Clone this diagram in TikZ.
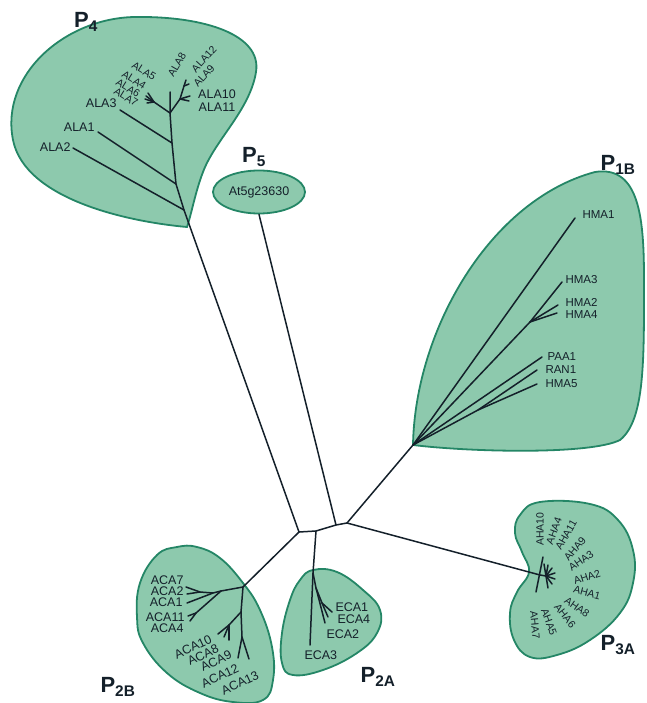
\documentclass[tikz,border=0pt]{standalone}
\usepackage{fontspec}
\setmainfont{Liberation Sans}
\usetikzlibrary{shapes.geometric}
\definecolor{cladefill}{RGB}{141,201,173}
\definecolor{cladeedge}{RGB}{36,134,102}
\definecolor{treeink}{RGB}{20,32,42}

\begin{document}
\begin{tikzpicture}[
    x=1pt, y=-1pt,
    clade/.style={draw=cladeedge, fill=cladefill, line width=1.8pt},
    branch/.style={draw=treeink, line width=1.5pt, line cap=round, line join=round},
    leaf/.style={font=\fontsize{12.5}{12.5}\selectfont, text=treeink, inner sep=0.3pt},
    hmaleaf/.style={font=\fontsize{11.5}{11.5}\selectfont, text=treeink, inner sep=0.3pt},
    tinyleaf/.style={font=\fontsize{10.5}{10.5}\selectfont, text=treeink, inner sep=0pt},
    cladename/.style={font=\fontsize{22}{22}\selectfont\bfseries, text=treeink, inner sep=0pt}
]
\useasboundingbox (0,0) rectangle (646,703);

% Clade shells
\draw[clade] (187,227) .. controls (130,222) and (25,200) .. (13,140)
    .. controls (0,75) and (65,18) .. (135,17)
    .. controls (205,16) and (262,35) .. (256,72)
    .. controls (250,110) and (215,140) .. (203,172)
    .. controls (195,193) and (192,212) .. (187,227) -- cycle;
\draw[clade] (413,445) .. controls (415,330) and (490,200) .. (595,172)
    .. controls (640,165) and (644,220) .. (644,280)
    .. controls (644,360) and (645,420) .. (620,440)
    .. controls (590,455) and (470,452) .. (413,445) -- cycle;
\draw[clade] plot[smooth cycle, tension=0.7] coordinates {(520,515) (540,502) (590,504) (618,520) (633,550) (633,583) (620,613) (590,640) (557,655) (530,657) (514,640) (510,613) (517,592) (529,572) (522,552) (515,533)};
\draw[clade] plot[smooth cycle, tension=0.7] coordinates {(313,570) (337,572) (363,590) (380,610) (377,633) (357,653) (323,670) (293,675) (282,663) (282,633) (290,600) (300,580)};
\draw[clade] plot[smooth cycle, tension=0.7] coordinates {(177,547) (157,555) (140,583) (137,617) (143,643) (167,673) (200,693) (233,702) (263,700) (273,680) (272,647) (260,610) (243,583) (220,558) (197,547)};
\node[clade, ellipse, minimum width=92pt, minimum height=43pt, leaf] (at5) at (259,192) {At5g23630};

% Clade names
\node[cladename] (p4) at (86,22) {P\textsubscript{4}};
\node[cladename] (p5) at (254,157) {P\textsubscript{5}};
\node[cladename] (p1b) at (618,165) {P\textsubscript{1B}};
\node[cladename] (p3a) at (618,645) {P\textsubscript{3A}};
\node[cladename] (p2a) at (378,677) {P\textsubscript{2A}};
\node[cladename] (p2b) at (118,687) {P\textsubscript{2B}};

% Backbone
\coordinate (jl) at (299,532);
\coordinate (jm) at (316,531);
\coordinate (jr) at (336,525);
\coordinate (jq) at (347,523);
\draw[branch] (jl) -- (jm) -- (jr) -- (jq);
\draw[branch] (jr) -- (at5.south);

% P4 branches
\coordinate (a0) at (184,210);
\coordinate (a1) at (176,184);
\coordinate (a3) at (172,143);
\coordinate (at) at (170,113);
\coordinate (al) at (154,102);
\coordinate (ar) at (180,99);
\coordinate (ak) at (184,86);
\coordinate (t-ala2) at (73,148);
\coordinate (t-ala1) at (98,132);
\coordinate (t-ala3) at (120,110);
\coordinate (t-ala8) at (170,92);
\coordinate (t-ala5) at (148,93);
\coordinate (t-ala4) at (146,96);
\coordinate (t-ala6) at (145,99);
\coordinate (t-ala7) at (147,103);
\coordinate (t-ala10) at (190,96);
\coordinate (t-ala11) at (189,101);
\coordinate (t-ala12) at (186,80);
\coordinate (t-ala9) at (189,84);
\draw[branch] (jl) -- (a0) -- (a1) -- (a3) -- (at) -- (t-ala8);
\draw[branch] (a0) -- (t-ala2);
\draw[branch] (a1) -- (t-ala1);
\draw[branch] (a3) -- (t-ala3);
\draw[branch] (at) -- (al) -- (t-ala5);
\draw[branch] (al) -- (t-ala4);
\draw[branch] (al) -- (t-ala6);
\draw[branch] (al) -- (t-ala7);
\draw[branch] (at) -- (ar) -- (ak) -- (t-ala12);
\draw[branch] (ak) -- (t-ala9);
\draw[branch] (ar) -- (t-ala10);
\draw[branch] (ar) -- (t-ala11);

\node[leaf, anchor=east] (ala2) at (71,147) {ALA2};
\node[leaf, anchor=east] (ala1) at (95,127) {ALA1};
\node[leaf, anchor=east] (ala3) at (117,103) {ALA3};
\node[tinyleaf, rotate=-32] (ala5) at (144,71) {ALA5};
\node[tinyleaf, rotate=-32] (ala4) at (134,80) {ALA4};
\node[tinyleaf, rotate=-32] (ala6) at (128,88) {ALA6};
\node[tinyleaf, rotate=-32] (ala7) at (126,97) {ALA7};
\node[tinyleaf, rotate=60] (ala8) at (177,65) {ALA8};
\node[tinyleaf, rotate=48] (ala12) at (204,59) {ALA12};
\node[tinyleaf, rotate=48] (ala9) at (204,76) {ALA9};
\node[leaf] (ala10) at (217,94) {ALA10};
\node[leaf] (ala11) at (217,107) {ALA11};

% P1B branches
\coordinate (h0) at (413,445);
\coordinate (h2) at (530,322);
\coordinate (h5) at (478,410);
\coordinate (t-hma1) at (575,218);
\coordinate (t-hma3) at (562,282);
\coordinate (t-hma2) at (558,305);
\coordinate (t-hma4) at (557,313);
\coordinate (t-paa1) at (542,357);
\coordinate (t-ran1) at (537,370);
\coordinate (t-hma5) at (537,384);
\draw[branch] (jq) -- (h0) -- (t-hma1);
\draw[branch] (h0) -- (h2) -- (t-hma3);
\draw[branch] (h2) -- (t-hma2);
\draw[branch] (h2) -- (t-hma4);
\draw[branch] (h0) -- (t-paa1);
\draw[branch] (h0) -- (h5) -- (t-ran1);
\draw[branch] (h5) -- (t-hma5);

\node[hmaleaf, anchor=west] (hma1) at (582,215) {HMA1};
\node[hmaleaf, anchor=west] (hma3) at (565,280) {HMA3};
\node[hmaleaf, anchor=west] (hma2) at (565,302) {HMA2};
\node[hmaleaf, anchor=west] (hma4) at (565,315) {HMA4};
\node[hmaleaf, anchor=west] (paa1) at (547,357) {PAA1};
\node[hmaleaf, anchor=west] (ran1) at (545,370) {RAN1};
\node[hmaleaf, anchor=west] (hma5) at (545,384) {HMA5};

% P3A branches
\coordinate (h-root) at (540,575);
\coordinate (hn) at (546,576);
\coordinate (hc1) at (543,557);
\coordinate (hc2) at (536,592);
\draw[branch] (jq) -- (h-root) -- (hn);
\draw[branch] (hc1) -- (hc2);
\draw[branch] (hn) -- (544,564);
\draw[branch] (hn) -- (548,565);
\draw[branch] (hn) -- (552,568);
\draw[branch] (hn) -- (555,573);
\draw[branch] (hn) -- (555,579);
\draw[branch] (hn) -- (552,584);
\draw[branch] (hn) -- (548,588);

\node[tinyleaf, rotate=90] (aha10) at (540,529) {AHA10};
\node[tinyleaf, rotate=70] (aha4) at (554,531) {AHA4};
\node[tinyleaf, rotate=60] (aha11) at (566,535) {AHA11};
\node[tinyleaf, rotate=50] (aha9) at (575,549) {AHA9};
\node[tinyleaf, rotate=35] (aha3) at (581,561) {AHA3};
\node[tinyleaf, rotate=18] (aha2) at (587,577) {AHA2};
\node[tinyleaf, rotate=-15] (aha1) at (587,593) {AHA1};
\node[tinyleaf, rotate=-35] (aha8) at (577,607) {AHA8};
\node[tinyleaf, rotate=-52] (aha6) at (565,616) {AHA6};
\node[tinyleaf, rotate=-70] (aha5) at (549,622) {AHA5};
\node[tinyleaf, rotate=-85] (aha7) at (535,625) {AHA7};

% P2A branches
\coordinate (e0) at (313,573);
\coordinate (ea) at (316,588);
\coordinate (eb) at (322,603);
\coordinate (t-eca3) at (310,645);
\coordinate (t-eca2) at (325,623);
\coordinate (t-eca1) at (332,612);
\coordinate (t-eca4) at (328,617);
\draw[branch] (jm) -- (e0) -- (t-eca3);
\draw[branch] (e0) -- (ea) -- (t-eca2);
\draw[branch] (ea) -- (eb) -- (t-eca1);
\draw[branch] (eb) -- (t-eca4);

\node[leaf, anchor=west] (eca1) at (335,607) {ECA1};
\node[leaf, anchor=west] (eca4) at (337,619) {ECA4};
\node[leaf, anchor=west] (eca2) at (326,634) {ECA2};
\node[leaf, anchor=west] (eca3) at (304,655) {ECA3};

% P2B branches
\coordinate (c0) at (243,587);
\coordinate (cu1) at (221,591);
\coordinate (cu2) at (213,593);
\coordinate (cu3) at (200,592);
\coordinate (cu4) at (196,613);
\coordinate (cl1) at (241,612);
\coordinate (cl2) at (229,625);
\coordinate (cl3) at (242,637);
\coordinate (t-aca7) at (186,587);
\coordinate (t-aca2) at (187,594);
\coordinate (t-aca1) at (187,603);
\coordinate (t-aca11) at (188,616);
\coordinate (t-aca4) at (190,621);
\coordinate (t-aca10) at (218,634);
\coordinate (t-aca8) at (224,637);
\coordinate (t-aca9) at (229,640);
\coordinate (t-aca12) at (238,658);
\coordinate (t-aca13) at (249,659);
\draw[branch] (jl) -- (c0) -- (cu1) -- (cu2) -- (cu3) -- (t-aca7);
\draw[branch] (cu3) -- (t-aca2);
\draw[branch] (cu2) -- (t-aca1);
\draw[branch] (cu1) -- (cu4) -- (t-aca11);
\draw[branch] (cu4) -- (t-aca4);
\draw[branch] (c0) -- (cl1) -- (cl2) -- (t-aca10);
\draw[branch] (cl2) -- (t-aca8);
\draw[branch] (cl2) -- (t-aca9);
\draw[branch] (cl1) -- (cl3) -- (t-aca12);
\draw[branch] (cl3) -- (t-aca13);

\node[leaf, anchor=east] (aca7) at (184,580) {ACA7};
\node[leaf, anchor=east] (aca2) at (184,591) {ACA2};
\node[leaf, anchor=east] (aca1) at (183,602) {ACA1};
\node[leaf, anchor=east] (aca11) at (185,617) {ACA11};
\node[leaf, anchor=east] (aca4) at (184,628) {ACA4};
\node[leaf, rotate=25] (aca10) at (193,647) {ACA10};
\node[leaf, rotate=25] (aca8) at (203,655) {ACA8};
\node[leaf, rotate=25] (aca9) at (216,661) {ACA9};
\node[leaf, rotate=25] (aca12) at (220,676) {ACA12};
\node[leaf, rotate=25] (aca13) at (240,683) {ACA13};

\end{tikzpicture}
\end{document}
